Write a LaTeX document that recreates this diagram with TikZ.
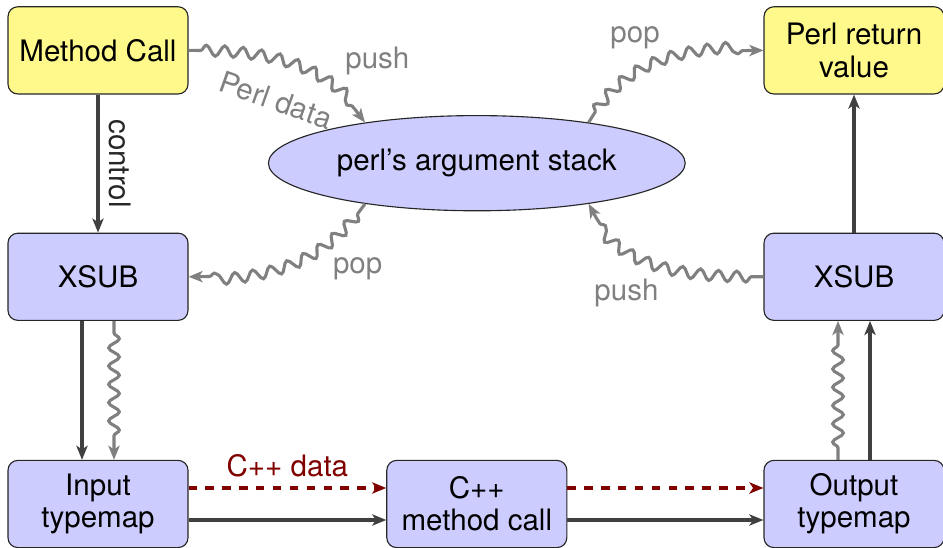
\documentclass[tikz,border=0pt]{standalone}
\usepackage{fontspec}
\setmainfont{TeX Gyre Heros}
\usetikzlibrary{arrows.meta, shapes.geometric, decorations.pathmorphing}
\tikzset{
  box/.style={draw=black!85, rounded corners=3.5pt, minimum width=2.25cm,
    minimum height=1.09cm, inner sep=2pt, align=center},
  perlbox/.style={box, fill=yellow!45},
  xsbox/.style={box, fill=blue!20},
  stackshape/.style={ellipse, draw=black!85, fill=blue!20, minimum width=5.21cm,
    minimum height=1.19cm, inner sep=0pt},
  tip/.style={-{Stealth[length=5pt, width=4pt, inset=1.3pt]}},
  ctrl/.style={draw=black!75, line width=1.1pt, tip},
  perldata/.style={draw=black!50, text=black!50, line width=1.1pt, tip, decorate,
    decoration={snake, amplitude=1.9pt, segment length=6.5pt,
      pre length=1.5mm, post length=2mm}},
  cdata/.style={draw=red!50!black, text=red!50!black, line width=1.1pt, dashed, tip}
}

\begin{document}
\begin{tikzpicture}[font=\fontsize{10.5}{11.5}\selectfont]
  \useasboundingbox (0,0) rectangle (11.7875,6.85);

  \node[perlbox] (call) at (1.225,6.22) {Method Call};
  \node[perlbox] (ret) at (10.675,6.22) {Perl return\\value};
  \node[stackshape] (stack) at (5.96,4.81) {perl's argument stack};
  \node[xsbox] (xsin) at (1.225,3.39) {XSUB};
  \node[xsbox] (xsout) at (10.675,3.39) {XSUB};
  \node[xsbox] (inmap) at (1.225,0.55) {Input\\typemap};
  \node[xsbox] (cxx) at (5.96,0.55) {C++\\method call};
  \node[xsbox] (outmap) at (10.675,0.55) {Output\\typemap};

  % control flow
  \draw[ctrl] (call) -- node[midway, above, sloped, text=black!85] {control} (xsin);
  \draw[ctrl] ([xshift=-2mm]xsin.south) -- ([xshift=-2mm]inmap.north);
  \draw[ctrl] ([yshift=-2mm]inmap.east) -- ([yshift=-2mm]cxx.west);
  \draw[ctrl] ([yshift=-2mm]cxx.east) -- ([yshift=-2mm]outmap.west);
  \draw[ctrl] ([xshift=2mm]outmap.north) -- ([xshift=2mm]xsout.south);
  \draw[ctrl] (xsout) -- (ret);

  % perl values through the stack
  \draw[perldata] (call.east) to[out=0, in=125]
    node[pos=0.5, below=6pt, sloped] {Perl data}
    node[pos=0.78, above right, yshift=1pt] {push} (stack.160);
  \draw[perldata] (stack.20) to[out=60, in=180]
    node[pos=0.5, above left, yshift=1pt, xshift=3pt] {pop} (ret.west);
  \draw[perldata] (stack.200) to[out=235, in=0]
    node[pos=0.3, below right] {pop} (xsin.east);
  \draw[perldata] (xsout.west) to[out=180, in=-65]
    node[pos=0.45, below left] {push} (stack.340);
  \draw[perldata] ([xshift=2mm]xsin.south) -- ([xshift=2mm]inmap.north);
  \draw[perldata] ([xshift=-2mm]outmap.north) -- ([xshift=-2mm]xsout.south);

  % C++ values
  \draw[cdata] ([yshift=2mm]inmap.east) -- node[above] {C++ data} ([yshift=2mm]cxx.west);
  \draw[cdata] ([yshift=2mm]cxx.east) -- ([yshift=2mm]outmap.west);
\end{tikzpicture}
\end{document}
